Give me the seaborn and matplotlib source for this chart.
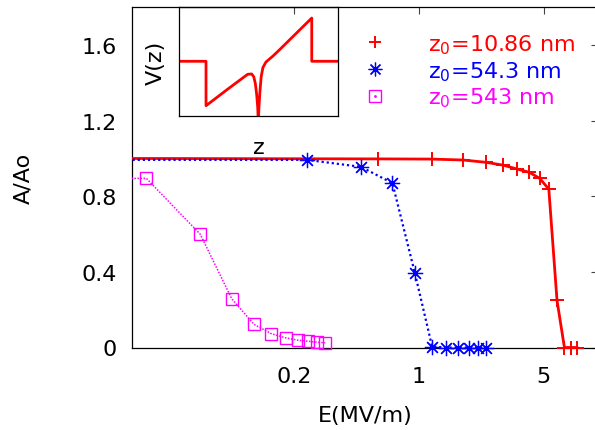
import matplotlib
matplotlib.use("Agg")
import matplotlib.pyplot as plt
import seaborn as sns
import pandas as pd
from matplotlib.lines import Line2D
from matplotlib.legend_handler import HandlerTuple

# ---------------- data ----------------
series_labels = ["z$_0$=10.86 nm", "z$_0$=54.3 nm", "z$_0$=543 nm"]
series_colors = ["#ff0000", "#0000ff", "#ff00ff"]

e_red = [0.593, 1.186, 1.779, 2.372, 2.965, 3.558, 4.151, 4.744, 5.337, 5.93, 6.523, 7.116, 7.709]
a_red = [0.997, 0.996, 0.991, 0.979, 0.964, 0.943, 0.926, 0.894, 0.837, 0.249, 0.0, 0.0, 0.0]

e_blue = [0.2375, 0.475, 0.7125, 0.95, 1.1875, 1.425, 1.6625, 1.9, 2.1375, 2.375]
a_blue = [0.992, 0.955, 0.869, 0.396, 0.005, 0.0, 0.0, 0.0, 0.0, 0.0]

e_mag = [0.03, 0.06, 0.09, 0.12, 0.15, 0.18, 0.21, 0.24, 0.27, 0.30]
a_mag = [0.894, 0.599, 0.258, 0.122, 0.073, 0.051, 0.039, 0.033, 0.028, 0.025]

# low-field points lying left of the visible range (lines enter from the left edge)
e_low = [0.01, 0.01, 0.01]
a_low = [1.0, 0.992, 0.895]

# inset potential V(z) (normalised coordinates)
vz_z = [0.0, 0.168, 0.168, 0.30, 0.43, 0.455, 0.468, 0.478, 0.487, 0.493, 0.497,
        0.501, 0.507, 0.515, 0.526, 0.545, 0.591, 0.633, 0.833, 0.833, 1.0]
vz_v = [0.502, 0.502, 0.092, 0.240, 0.382, 0.385, 0.360, 0.300, 0.190, 0.080, -0.06,
        0.080, 0.220, 0.360, 0.445, 0.495, 0.553, 0.612, 0.901, 0.502, 0.502]

x_ticks = [0.2, 1, 5]
x_tick_labels = ["0.2", "1", "5"]
y_ticks = [0, 0.4, 0.8, 1.2, 1.6]
y_tick_labels = ["0", "0.4", "0.8", "1.2", "1.6"]

# ---------------- style ----------------
sns.set_theme(style="white")
plt.rcParams["font.family"] = ["DejaVu Sans"]
plt.rcParams["mathtext.default"] = "regular"
for k in ["text.color", "axes.labelcolor", "xtick.labelcolor", "ytick.labelcolor"]:
    plt.rcParams[k] = "black"
FS = 16

W, H = 595, 431
fig = plt.figure(figsize=(W / 100, H / 100), dpi=100)
L, R, T, B = 132.2, 597.6, 8.0, 348.5
ax = fig.add_axes([L / W, 1 - B / H, (R - L) / W, (B - T) / H])
ax.set_xscale("log")

lines_spec = [
    dict(e=e_red, a=a_red, lw=2.0, ls="-", marker="+", ms=10, mew=1.4),
    dict(e=e_blue, a=a_blue, lw=1.6, ls=(0, (1, 1.3)), marker=(8, 2, 0), ms=11, mew=0.9),
    dict(e=e_mag, a=a_mag, lw=1.1, ls=(0, (1, 1)), marker="s", ms=9, mew=1.0),
]

for i, spec in enumerate(lines_spec):
    col = series_colors[i]
    df_line = pd.DataFrame({"E": [e_low[i]] + spec["e"], "A": [a_low[i]] + spec["a"]})
    sns.lineplot(data=df_line, x="E", y="A", ax=ax, color=col, lw=spec["lw"],
                 linestyle=spec["ls"], sort=False, estimator=None, zorder=3 + i)
    df_pts = pd.DataFrame({"E": spec["e"], "A": spec["a"]})
    sns.lineplot(data=df_pts, x="E", y="A", ax=ax, color=col, linestyle="none",
                 marker=spec["marker"], markersize=spec["ms"], markeredgewidth=spec["mew"],
                 markerfacecolor="none", markeredgecolor=col, sort=False,
                 estimator=None, clip_on=False, zorder=3.5 + i)

ax.set_xlim(0.025, 10)
ax.set_ylim(0, 1.8)
ax.set_xticks(x_ticks)
ax.set_xticklabels(x_tick_labels)
ax.minorticks_off()
ax.set_yticks(y_ticks)
ax.set_yticklabels(y_tick_labels)
ax.tick_params(axis="both", which="both", direction="in", length=5, width=0.8,
               color="#444444", labelcolor="black", labelsize=FS, top=True, right=True)
ax.tick_params(axis="x", pad=13)
ax.tick_params(axis="y", pad=11)
for s in ax.spines.values():
    s.set_color("black")
    s.set_linewidth(0.9)
ax.set_xlabel("E(MV/m)", fontsize=FS, labelpad=14, color="black")
ax.set_ylabel("A/Ao", fontsize=FS, labelpad=35, color="black")
ax.grid(False)

# legend
handles = []
for i, spec in enumerate(lines_spec):
    h = Line2D([], [], color=series_colors[i], linestyle="none", marker=spec["marker"],
               markersize=spec["ms"] * 0.9, markeredgewidth=spec["mew"],
               markerfacecolor="none")
    if i == 2:
        dot = Line2D([], [], color=series_colors[i], linestyle="none", marker=".", markersize=2)
        h = (h, dot)
    handles.append(h)
leg = ax.legend(handles, series_labels, loc="upper left", bbox_to_anchor=(364 / W, 1 - 33 / H),
                bbox_transform=fig.transFigure, frameon=False, fontsize=FS, handlelength=1.0,
                handletextpad=1.9, labelspacing=0.15, borderpad=0, borderaxespad=0,
                handler_map={tuple: HandlerTuple(ndivide=1, pad=0)})
for t, c in zip(leg.get_texts(), series_colors):
    t.set_color(c)

# inset
iL, iR, iT, iB = 179.3, 338.3, 8.3, 116.7
axi = fig.add_axes([iL / W, 1 - iB / H, (iR - iL) / W, (iB - iT) / H])
axi.patch.set_alpha(0)
sns.lineplot(x=vz_z, y=vz_v, ax=axi, color="#ff0000", lw=2.0, sort=False, estimator=None)
axi.set_xlim(0, 1)
axi.set_ylim(0, 1)
axi.set_xticks([])
axi.set_yticks([])
for s in axi.spines.values():
    s.set_color("black")
    s.set_linewidth(0.9)
axi.set_xlabel("z", fontsize=FS, labelpad=15, color="black")
axi.set_ylabel("V(z)", fontsize=FS, labelpad=10, color="black")

fig.savefig("out.png", dpi=100)
